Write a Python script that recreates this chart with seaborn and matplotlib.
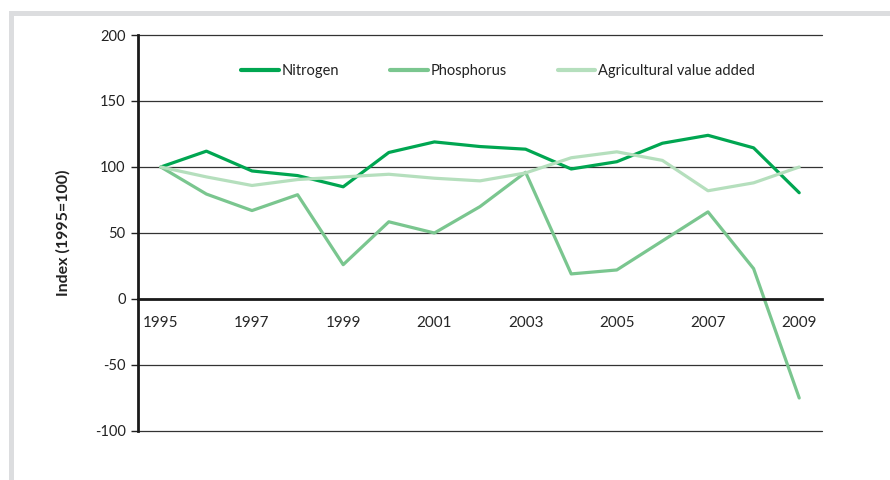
import matplotlib
matplotlib.use("Agg")
import matplotlib.pyplot as plt
import seaborn as sns
import pandas as pd
from matplotlib.patches import Rectangle

years = list(range(1995, 2010))
nitrogen = [100, 112, 97, 93.5, 85, 111, 119, 115.5, 113.5, 98.5, 104, 118, 124, 114.5, 80.5]
phosphorus = [100, 79.5, 67, 79, 26, 58.5, 50, 70, 96, 19, 22, 44, 66, 23, -75]
agri_value = [100, 92.5, 86, 90.5, 92.5, 94.5, 91.5, 89.5, 95.5, 107, 111.5, 105, 82, 88, 100]
series_names = ["Nitrogen", "Phosphorus", "Agricultural value added"]
colors = ["#00A651", "#7AC68F", "#B5DFBD"]
tick_years = [1995, 1997, 1999, 2001, 2003, 2005, 2007, 2009]
y_ticks = [-100, -50, 0, 50, 100, 150, 200]

df = pd.DataFrame({
    "Year": years * 3,
    "Value": nitrogen + phosphorus + agri_value,
    "Series": [series_names[0]] * len(years) + [series_names[1]] * len(years) + [series_names[2]] * len(years),
})

sns.set_theme(style="white")
plt.rcParams["font.family"] = ["Lato", "DejaVu Sans"]
plt.rcParams["text.color"] = "#222222"

fig = plt.figure(figsize=(8.9, 4.8), dpi=100)
# grey frame (top and left visible)
fig.patches.append(Rectangle((9 / 890, -0.1), 1.2, 1 - 11 / 480 + 0.1, transform=fig.transFigure,
                             facecolor="#DCDDDF", edgecolor="none", zorder=-10))
fig.patches.append(Rectangle((14 / 890, -0.1), 1.2, 1 - 16 / 480 + 0.1, transform=fig.transFigure,
                             facecolor="white", edgecolor="none", zorder=-9))

ax = fig.add_axes([138 / 890, 1 - 431 / 480, (822 - 138) / 890, (431 - 35) / 480])
ax.set_facecolor("none")
ax.set_zorder(1)

sns.lineplot(data=df, x="Year", y="Value", hue="Series", hue_order=series_names,
             palette=colors, linewidth=2.3, ax=ax, legend=True)

ax.set_xlim(1994.5, 2009.5)
ax.set_ylim(-100, 200)
ax.set_yticks(y_ticks)
ax.set_yticklabels([str(v) for v in y_ticks], fontsize=10.5, color="#222222")
ax.yaxis.grid(True, color="#333333", linewidth=0.9)
ax.set_axisbelow(True)
for gl in ax.get_ygridlines():
    gl.set_clip_on(False)

ax.set_xticks(tick_years)
ax.set_xticklabels([str(y) for y in tick_years], fontsize=10.5, color="#222222")
ax.set_xticks([y + 0.5 for y in range(1996, 2009, 2)], minor=True)
ax.tick_params(axis="x", which="major", length=0, pad=12)
ax.tick_params(axis="x", which="minor", length=4, width=1, color="#222222", direction="out")
ax.tick_params(axis="y", which="major", length=5, width=1, color="#222222", direction="out", pad=4, left=True)

for s in ["top", "right"]:
    ax.spines[s].set_visible(False)
ax.spines["bottom"].set_position(("data", 0))
ax.spines["bottom"].set_linewidth(2)
ax.spines["bottom"].set_color("#1a1a1a")
ax.spines["left"].set_linewidth(2)
ax.spines["left"].set_color("#1a1a1a")

ax.set_xlabel("")
ax.set_ylabel("Index (1995=100)", fontsize=11.5, fontweight="bold", color="#222222")
ax.yaxis.set_label_coords(-0.099, 0.5)

leg = ax.legend(loc="center", bbox_to_anchor=((498 - 138) / 684, (431 - 71) / 396), ncol=3, frameon=False,
                fontsize=10.5, handlelength=2.6, handletextpad=0.15, columnspacing=3.5)
for line in leg.get_lines():
    line.set_linewidth(3)

fig.savefig("out.png", dpi=100)
